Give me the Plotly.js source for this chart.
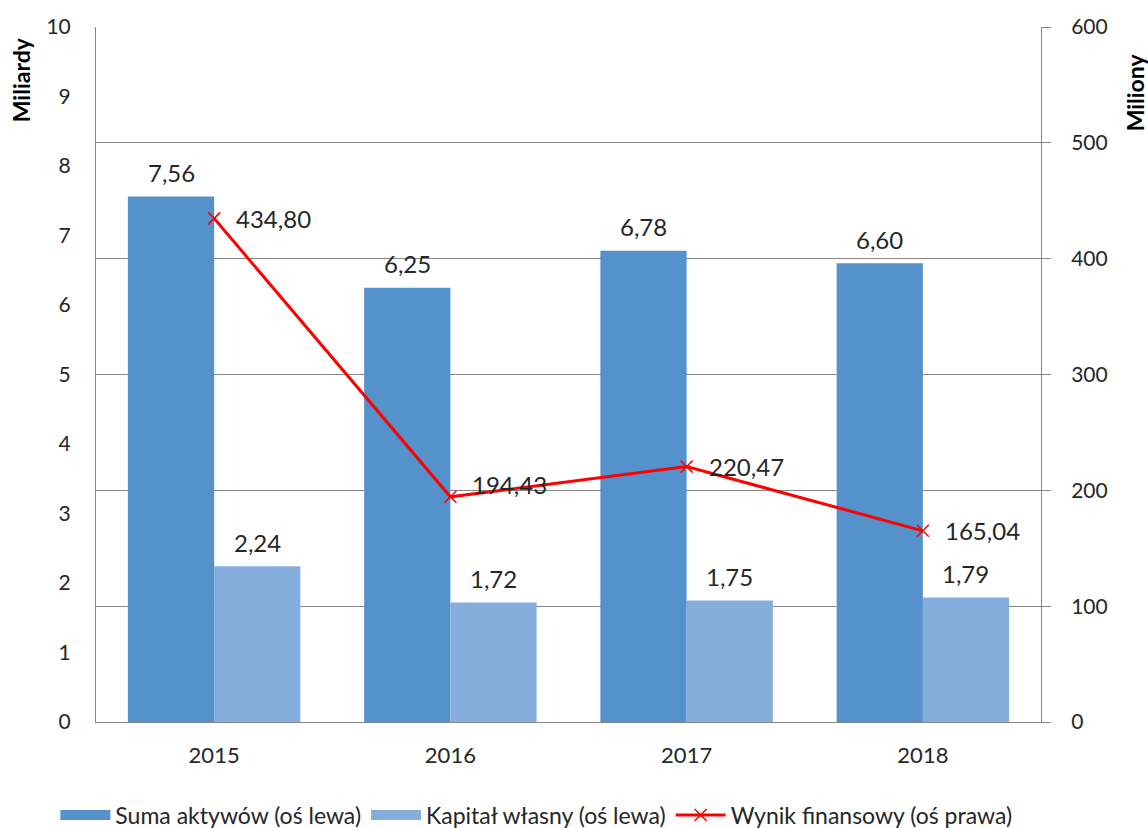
<!DOCTYPE html>
<html>
<head>
<meta charset="utf-8">
<script src="https://cdn.plot.ly/plotly-3.0.1.min.js"></script>
<style>html,body{margin:0;padding:0;background:#fff;}#chart{width:1148px;height:828px;}</style>
</head>
<body>
<div id="chart"></div>
<script>
const years = [2015, 2016, 2017, 2018];
const yearLabels = ['2015', '2016', '2017', '2018'];
const sumaAktywow = [7.56, 6.25, 6.78, 6.60];
const kapitalWlasny = [2.24, 1.72, 1.75, 1.79];
const wynikFinansowy = [434.80, 194.43, 220.47, 165.04];
const leftTicks = [0,1,2,3,4,5,6,7,8,9,10];
const rightTicks = [0,100,200,300,400,500,600];
const seriesNames = ['Suma aktywów (oś lewa)', 'Kapitał własny (oś lewa)', 'Wynik finansowy (oś prawa)'];

const fmt = v => v.toFixed(2).replace('.', ',');
const FONT = 'Lato, "Open Sans", sans-serif';
const TXT = '#262626';
const FS = 21;     // tick labels
const DS = 24;     // data labels
const LS = 23;     // legend
const DARK = '#5591CA', LIGHT = '#86AEDC', RED = '#FF0000';

const traces = [
  {type:'bar', name:seriesNames[0], x:years, y:sumaAktywow, yaxis:'y', showlegend:false,
   marker:{color:DARK}, hoverinfo:'skip'},
  {type:'bar', name:seriesNames[1], x:years, y:kapitalWlasny, yaxis:'y', showlegend:false,
   marker:{color:LIGHT}, hoverinfo:'skip'},
  {type:'scatter', mode:'lines+markers', name:seriesNames[2], x:years, y:wynikFinansowy, yaxis:'y2', showlegend:false,
   line:{color:RED, width:3}, marker:{symbol:'x-thin', size:12, line:{color:RED, width:1.5}, color:RED},
   hoverinfo:'skip'},
  // legend entries (wide swatches like the reference)
  {type:'scatter', mode:'lines', name:seriesNames[0], x:[null], y:[null], line:{color:DARK, width:14}, hoverinfo:'skip'},
  {type:'scatter', mode:'lines', name:seriesNames[1], x:[null], y:[null], line:{color:LIGHT, width:14}, hoverinfo:'skip'},
  {type:'scatter', mode:'lines+markers', name:seriesNames[2], x:[null], y:[null], yaxis:'y2',
   line:{color:RED, width:3}, marker:{symbol:'x-thin', size:12, line:{color:RED, width:1.5}, color:RED}, hoverinfo:'skip'}
];

const annotations = [];
years.forEach((yr, i) => {
  annotations.push({x:yr, y:sumaAktywow[i], xref:'x', yref:'y', text:fmt(sumaAktywow[i]), showarrow:false,
    xshift:-43, yshift:24, font:{family:FONT, size:DS, color:TXT}});
  annotations.push({x:yr, y:kapitalWlasny[i], xref:'x', yref:'y', text:fmt(kapitalWlasny[i]), showarrow:false,
    xshift:43, yshift:24, font:{family:FONT, size:DS, color:TXT}});
  annotations.push({x:yr, y:wynikFinansowy[i], xref:'x', yref:'y2', text:fmt(wynikFinansowy[i]), showarrow:false,
    xanchor:'left', xshift:20, yshift:(i===1?12:0), font:{family:FONT, size:DS, color:TXT}});
});
annotations.push({xref:'paper', yref:'paper', x:-0.080, y:0.924, xanchor:'center', yanchor:'middle',
  text:'<b>Miliardy</b>', textangle:-90, showarrow:false, font:{family:FONT, size:23, color:'#000'}});
annotations.push({xref:'paper', yref:'paper', x:1.0995, y:0.906, xanchor:'center', yanchor:'middle',
  text:'<b>Miliony</b>', textangle:-90, showarrow:false, font:{family:FONT, size:23, color:'#000'}});

const layout = {
  width:1148, height:828,
  margin:{l:96, r:107, t:27, b:106, autoexpand:false},
  paper_bgcolor:'#fff', plot_bgcolor:'#fff',
  font:{family:FONT, size:FS, color:TXT},
  barmode:'group', bargap:0.27, bargroupgap:0,
  showlegend:true,
  legend:{orientation:'h', x:-0.043, xanchor:'left', xref:'paper', y:-0.134, yanchor:'middle', yref:'paper',
    font:{family:FONT, size:LS, color:TXT}, itemwidth:50, traceorder:'normal'},
  xaxis:{type:'linear', range:[2014.5, 2018.5], tickvals:years, ticktext:yearLabels, automargin:false,
    showline:true, linecolor:'#868686', linewidth:1, ticks:'', showgrid:false, zeroline:false,
    tickfont:{family:FONT, size:22, color:TXT}, ticklabelstandoff:14},
  yaxis:{range:[0,10], tickvals:leftTicks, automargin:false, showline:true, linecolor:'#868686', linewidth:1, showgrid:false,
    zeroline:false, ticks:'', tickfont:{family:FONT, size:FS, color:TXT}, ticklabelstandoff:20},
  yaxis2:{range:[0,600], tickvals:rightTicks, automargin:false, overlaying:'y', side:'right', showline:true, linecolor:'#868686',
    linewidth:1, showgrid:true, gridcolor:'#868686', gridwidth:1, zeroline:false, ticks:'outside', ticklen:9,
    tickcolor:'#868686', tickfont:{family:FONT, size:FS, color:TXT}, ticklabelstandoff:16},
  annotations:annotations
};

Plotly.newPlot('chart', traces, layout, {staticPlot:true, displayModeBar:false});
</script>
</body>
</html>
